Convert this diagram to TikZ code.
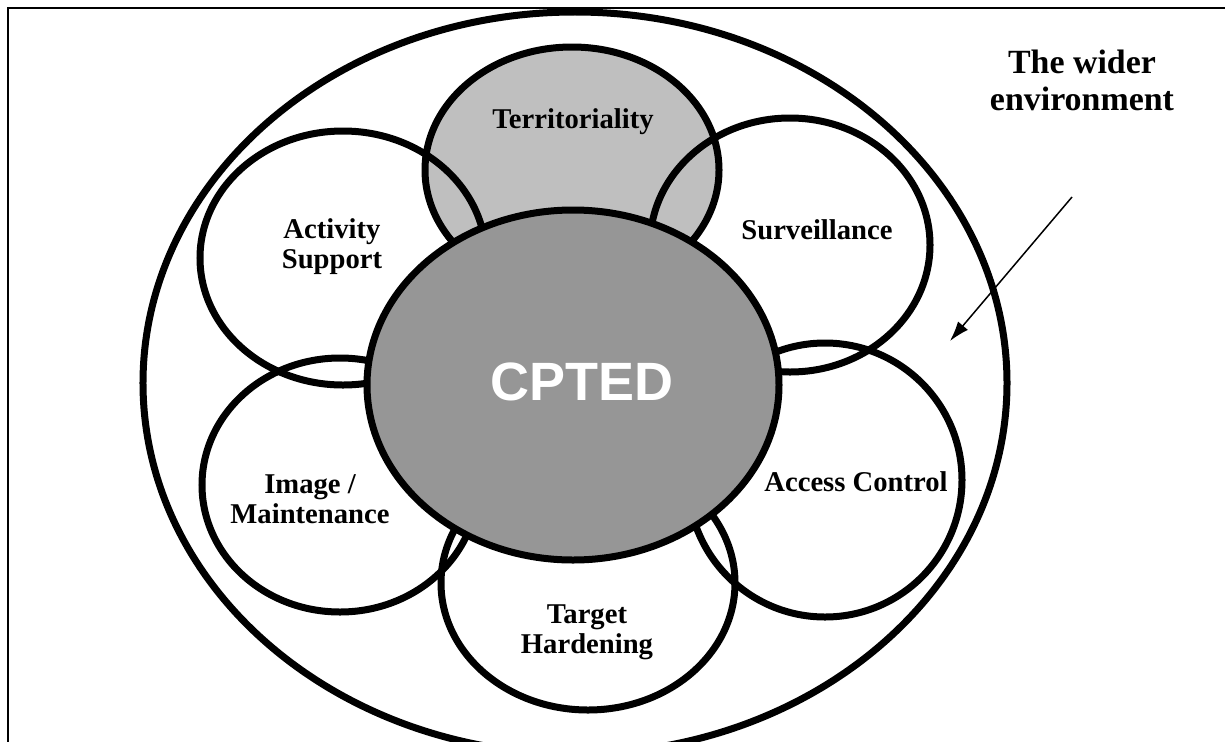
\documentclass[tikz,border=0pt]{standalone}
\usepackage{fontspec}
\setmainfont{Liberation Serif}
\setsansfont{Liberation Sans}
\usepackage{xcolor}
\usetikzlibrary{arrows.meta,shapes.geometric}

\definecolor{terrgray}{gray}{0.75}
\definecolor{coregray}{gray}{0.59}

\begin{document}
\begin{tikzpicture}[x=0.2mm, y=-0.2mm,
		ring/.style={draw, ellipse, line width=1.4mm, inner sep=0pt},
		lbl/.style={font=\fontsize{16.3}{17}\selectfont\bfseries, align=center}]
				\useasboundingbox (0,0) rectangle (1225,741);
				\clip (0,0) rectangle (1225,741);
				\draw[line width=0.4mm] (8,8) rectangle (1260,780);

				% Environment
				\node[ring, minimum width=172.8mm, minimum height=148.4mm] (env) at (575,383) {};

				% Petals
				\node[ring, fill=terrgray, minimum width=58.8mm, minimum height=49.2mm] (terr) at (572,170) {};
				\node[ring, minimum width=57.2mm, minimum height=50.8mm] (act) at (343,258) {};
				\node[ring, minimum width=56mm, minimum height=50.8mm] (surv) at (790,245) {};
				\node[ring, minimum width=55.2mm, minimum height=50.8mm] (img) at (340,485) {};
				\node[ring, minimum width=54.8mm, minimum height=54.8mm] (acc) at (825,480) {};
				\node[ring, minimum width=58.8mm, minimum height=50.8mm] (tgt) at (588,583) {};

				% Core
				\node[ring, fill=coregray, minimum width=82.4mm, minimum height=70mm] (core) at (573,385) {};
				\node[font=\fontsize{30.7}{32}\selectfont\sffamily\bfseries, text=white] (coretxt) at (582,382) {CPTED};

				% Labels
				\node[lbl] (terrlbl) at (573,122) {Territoriality};
				\node[lbl] (actlbl) at (332,247) {Activity\\Support};
				\node[lbl] (survlbl) at (817,230) {Surveillance};
				\node[lbl] (imglbl) at (310,499) {Image /\\Maintenance};
				\node[lbl] (acclbl) at (856,482) {Access Control};
				\node[lbl] (tgtlbl) at (587,632) {Target\\Hardening};

				\node[font=\fontsize{19.3}{21}\selectfont\bfseries, align=center] (envlbl) at (1082,80) {The wider\\environment};
				\coordinate (ptrtail) at (1072,197);
				\coordinate (ptrhead) at (950,341);
				\draw[line width=0.3mm, -{Latex[length=4mm,width=2.6mm]}] (ptrtail) -- (ptrhead);
			\end{tikzpicture}
\end{document}
